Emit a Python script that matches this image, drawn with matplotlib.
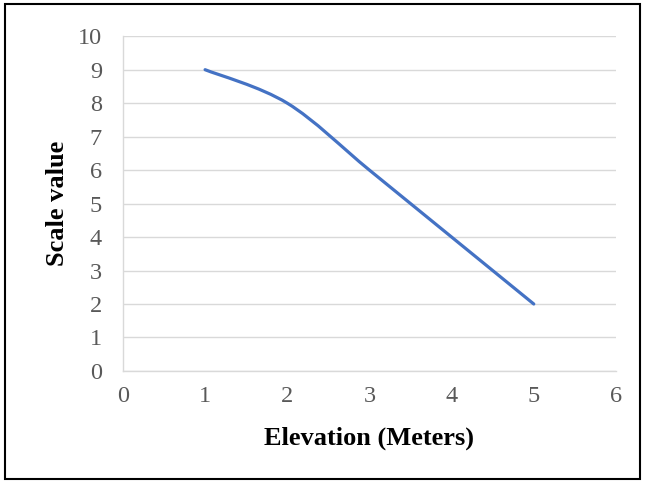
import matplotlib
matplotlib.use('Agg')
import matplotlib.pyplot as plt
from matplotlib.path import Path
from matplotlib.patches import PathPatch, Rectangle

# data
elevation = [1, 2, 3, 4, 5]
scale_value = [9, 8, 6, 4, 2]
x_ticks = [0, 1, 2, 3, 4, 5, 6]
y_ticks = list(range(0, 11))

plt.rcParams['font.family'] = ['Liberation Serif', 'DejaVu Serif']

fig = plt.figure(figsize=(6.47, 4.83), dpi=100)
ax = fig.add_axes([0.190, 0.232, 0.762, 0.693])

# smoothed line like Excel: cubic bezier through the points
pts = list(zip(elevation, scale_value))
verts = [pts[0]]
codes = [Path.MOVETO]
for i in range(len(pts) - 1):
    p0 = pts[max(i - 1, 0)]
    p1 = pts[i]
    p2 = pts[i + 1]
    p3 = pts[min(i + 2, len(pts) - 1)]
    c1 = (p1[0] + (p2[0] - p0[0]) / 6, p1[1] + (p2[1] - p0[1]) / 6)
    c2 = (p2[0] - (p3[0] - p1[0]) / 6, p2[1] - (p3[1] - p1[1]) / 6)
    verts += [c1, c2, p2]
    codes += [Path.CURVE4] * 3
ax.add_patch(PathPatch(Path(verts, codes), fill=False, edgecolor='#4472C4',
                       lw=2.3, capstyle='round', joinstyle='round', zorder=3))

ax.set_xlim(0, 6)
ax.set_ylim(0, 10)
ax.set_xticks(x_ticks)
ax.set_yticks(y_ticks)
ax.grid(axis='y', color='#d9d9d9', lw=1)
ax.set_axisbelow(True)
for s in ['top', 'right']:
    ax.spines[s].set_visible(False)
for s in ['left', 'bottom']:
    ax.spines[s].set_color('#d9d9d9')
    ax.spines[s].set_linewidth(1)
ax.tick_params(length=0, labelsize=17.5, labelcolor='#595959')
ax.tick_params(axis='x', pad=11)
ax.tick_params(axis='y', pad=15)

ax.set_xlabel('Elevation (Meters)', fontsize=19, fontweight='bold')
ax.set_ylabel('Scale value', fontsize=19, fontweight='bold')
ax.xaxis.label.set_va('center')
ax.yaxis.label.set_va('center')
ax.xaxis.set_label_coords(0.5, -0.2)
ax.yaxis.set_label_coords(-0.132, 0.5)

fig.patches.append(Rectangle((5 / 647, 4 / 483), 635 / 647, 475 / 483,
                             transform=fig.transFigure, fill=False,
                             edgecolor='black', lw=1.5))

fig.savefig('out.png', dpi=100)
